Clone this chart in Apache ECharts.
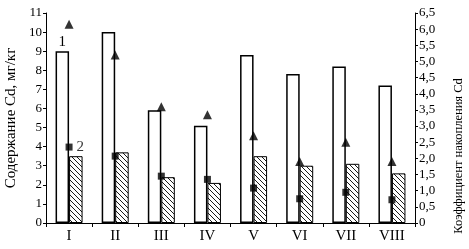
<!DOCTYPE html>
<html><head><meta charset="utf-8">
<script src="https://cdn.jsdelivr.net/npm/echarts@6/dist/echarts.min.js"></script>
<style>html,body{margin:0;padding:0;background:#fff}#c{width:469px;height:249px}</style>
</head><body><div id="c"></div>
<script>
const categories = ['I','II','III','IV','V','VI','VII','VIII'];
const cdContent = [9.0, 10.0, 5.9, 5.1, 8.8, 7.8, 8.2, 7.2];
const cdHatched = [3.5, 3.7, 2.4, 2.1, 3.5, 3.0, 3.1, 2.6];
const coefTriangles = [6.15, 5.2, 3.6, 3.35, 2.7, 1.9, 2.5, 1.9];
const coefSquares = [2.35, 2.07, 1.45, 1.35, 1.08, 0.75, 0.95, 0.72];
const leftTicks = {min: 0, max: 11, interval: 1};
const rightTicks = {min: 0, max: 6.5, interval: 0.5};

const font = '"Liberation Serif", "Times New Roman", serif';
const pc = document.createElement('canvas');
pc.width = 5; pc.height = 5;
const ctx = pc.getContext('2d');
ctx.fillStyle = '#fff'; ctx.fillRect(0,0,5,5);
ctx.strokeStyle = '#000'; ctx.lineWidth = 0.9;
ctx.beginPath();
ctx.moveTo(-1,-1); ctx.lineTo(6,6);
ctx.moveTo(-1,4); ctx.lineTo(1,6);
ctx.moveTo(4,-1); ctx.lineTo(6,1);
ctx.stroke();

const chart = echarts.init(document.getElementById('c'), null, {renderer:'canvas'});
chart.setOption({
  animation: false,
  grid: {left: 46, right: 54, top: 13, bottom: 26, containLabel: false, outerBoundsMode: 'none'},
  xAxis: {
    type: 'category', data: categories,
    axisLine: {lineStyle: {color: '#000', width: 1}},
    axisTick: {show: true, length: 4, inside: false, lineStyle: {color: '#000'}},
    axisLabel: {color: '#000', fontFamily: font, fontSize: 15, margin: 6}
  },
  yAxis: [{
    type: 'value', min: leftTicks.min, max: leftTicks.max, interval: leftTicks.interval,
    name: 'Содержание Cd, мг/кг', nameLocation: 'middle', nameGap: 27, nameRotate: 90,
    nameTextStyle: {color: '#000', fontFamily: font, fontSize: 15},
    axisLine: {show: true, lineStyle: {color: '#000'}},
    axisTick: {show: true, length: 3, lineStyle: {color: '#000'}},
    axisLabel: {color: '#000', fontFamily: font, fontSize: 13, margin: 4},
    splitLine: {show: false}
  }, {
    type: 'value', min: rightTicks.min, max: rightTicks.max, interval: rightTicks.interval,
    position: 'right',
    name: 'Коэффициент накопления Cd', nameLocation: 'middle', nameGap: 37, nameRotate: 90,
    nameTextStyle: {color: '#000', fontFamily: font, fontSize: 12.5, padding: [0, 76, 0, 0]},
    axisLine: {show: true, lineStyle: {color: '#000'}},
    axisTick: {show: true, length: 3, lineStyle: {color: '#000'}},
    axisLabel: {color: '#000', fontFamily: font, fontSize: 13, margin: 4,
      formatter: v => v === 0 ? '0' : v.toFixed(1).replace('.', ',')},
    splitLine: {show: false}
  }],
  series: [{
    type: 'bar', yAxisIndex: 0, barWidth: 13.5, barGap: '0%',
    itemStyle: {color: '#fff', borderColor: '#000', borderWidth: 1.5},
    data: cdContent.map((v, i) => i === 0 ? {value: v, label: {show: true, formatter: '1', position: 'top', distance: 2, color: '#000', fontFamily: font, fontSize: 15}} : v)
  }, {
    type: 'bar', yAxisIndex: 0, barWidth: 13.5, barGap: '0%',
    itemStyle: {color: {image: pc, repeat: 'repeat'}, borderColor: '#000', borderWidth: 1},
    data: cdHatched
  }, {
    type: 'scatter', yAxisIndex: 1, symbol: 'triangle', symbolSize: 9,
    itemStyle: {color: '#000'}, z: 5,
    data: coefTriangles
  }, {
    type: 'scatter', yAxisIndex: 1, symbol: 'rect', symbolSize: 7,
    itemStyle: {color: '#000'}, z: 5,
    data: coefSquares.map((v, i) => i === 0 ? {value: v, label: {show: true, formatter: '2', position: 'right', distance: 4, color: '#000', fontFamily: font, fontSize: 15}} : v)
  }]
});
</script></body></html>
